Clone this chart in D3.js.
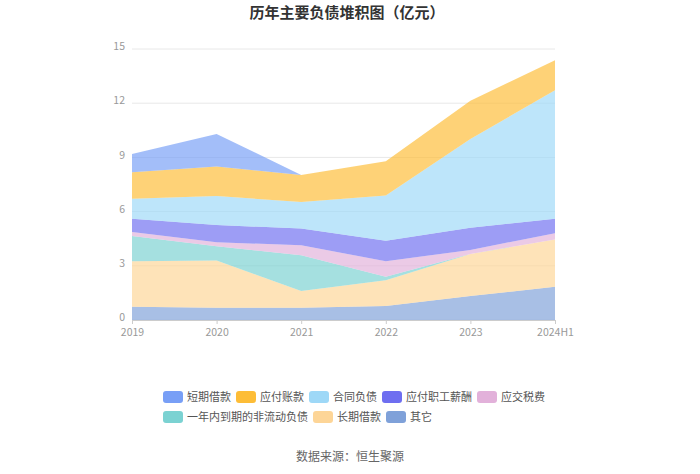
<!DOCTYPE html>
<html>
<head>
<meta charset="utf-8">
<script src="https://cdn.jsdelivr.net/npm/d3@7"></script>
<style>
  body { margin: 0; background: #fff; }
  text { font-family: "Noto Sans CJK SC", "Noto Sans", sans-serif; }
</style>
</head>
<body>
<div id="chart"></div>
<script>
"use strict";

// categories (x axis)
const years = ["2019", "2020", "2021", "2022", "2023", "2024H1"];

// series values, 亿元
const duanqiJiekuan = [1.01, 1.81, 0, 0, 0, 0];
const yingfuZhangkuan = [1.47, 1.63, 1.50, 1.90, 2.11, 1.66];
const hetongFuzhai = [1.10, 1.60, 1.47, 2.50, 4.91, 7.11];
const zhigongXinchou = [0.74, 0.96, 0.92, 1.14, 1.23, 0.81];
const yingjiaoShuifei = [0.22, 0.22, 0.56, 0.86, 0.22, 0.34];
const yinianNeiDaoqi = [1.40, 0.79, 1.98, 0.19, 0.01, 0];
const changqiJiekuan = [2.52, 2.61, 0.92, 1.42, 2.32, 2.62];
const qita = [0.73, 0.68, 0.68, 0.78, 1.33, 1.84];

// y axis ticks
const yTicks = [0, 3, 6, 9, 12, 15];

// legend order (top of stack first)
const seriesNames = ["短期借款", "应付账款", "合同负债", "应付职工薪酬", "应交税费", "一年内到期的非流动负债", "长期借款", "其它"];
const seriesValues = [duanqiJiekuan, yingfuZhangkuan, hetongFuzhai, zhigongXinchou, yingjiaoShuifei, yinianNeiDaoqi, changqiJiekuan, qita];
const seriesColors = ["#789ff6", "#fdbd37", "#9ed8f7", "#6e6ef0", "#e2b1da", "#7bd2d2", "#fdd597", "#7fa1d9"];

const width = 700, height = 474;
const margin = { top: 49, right: 145, bottom: 154, left: 132 };
const innerW = width - margin.left - margin.right;
const innerH = height - margin.top - margin.bottom;

const svg = d3.select("#chart").append("svg")
    .attr("width", width)
    .attr("height", height);

// title
svg.append("text")
    .attr("x", 347)
    .attr("y", 18)
    .attr("text-anchor", "middle")
    .style("font-size", "15px")
    .style("font-weight", "bold")
    .style("fill", "#333")
    .text("历年主要负债堆积图（亿元）");

const g = svg.append("g")
    .attr("transform", `translate(${margin.left},${margin.top})`);

const x = d3.scalePoint().domain(years).range([0, innerW]);
const y = d3.scaleLinear().domain([0, 15]).range([innerH, 0]);

// gridlines
g.append("g")
    .selectAll("line")
    .data(yTicks)
    .enter()
    .append("line")
    .attr("x1", 0)
    .attr("x2", innerW)
    .attr("y1", d => y(d))
    .attr("y2", d => y(d))
    .style("stroke", "#e8e8e8")
    .style("stroke-width", 1);

// build the table for the stack: bottom series first
const table = years.map((yr, i) => {
    const row = { year: yr };
    seriesNames.forEach((name, k) => { row[name] = seriesValues[k][i]; });
    return row;
});
const stackKeys = seriesNames.slice().reverse();
const stacked = d3.stack().keys(stackKeys)(table);

const area = d3.area()
    .x(d => x(d.data.year))
    .y0(d => y(d[0]))
    .y1(d => y(d[1]));

g.append("g")
    .selectAll("path")
    .data(stacked)
    .enter()
    .append("path")
    .attr("d", area)
    .style("fill", d => seriesColors[seriesNames.indexOf(d.key)])
    .style("fill-opacity", 0.68)
    .style("stroke", "none");

// y axis labels
g.append("g")
    .selectAll("text")
    .data(yTicks)
    .enter()
    .append("text")
    .attr("x", -7)
    .attr("y", d => y(d) - 2.5)
    .attr("dy", "0.35em")
    .attr("text-anchor", "end")
    .style("font-size", "10.5px")
    .style("fill", "#999")
    .text(d => d);

// x axis
const xAxis = g.append("g")
    .attr("transform", `translate(0,${innerH})`)
    .call(d3.axisBottom(x).tickSize(4).tickPadding(5));
xAxis.select(".domain").style("stroke", "#ccc");
xAxis.selectAll(".tick line").style("stroke", "#ccc");
xAxis.selectAll(".tick text")
    .style("font-size", "10.5px")
    .style("fill", "#999")
    .style("font-family", "\"Noto Sans CJK SC\", \"Noto Sans\", sans-serif");

// legend
const legendRows = [[0, 1, 2, 3, 4], [5, 6, 7]];
const legendY = [397, 417];
legendRows.forEach((row, r) => {
    let lx = 163;
    row.forEach(k => {
        const item = svg.append("g").attr("transform", `translate(${lx},${legendY[r]})`);
        item.append("rect")
            .attr("x", 0)
            .attr("y", -6)
            .attr("width", 20)
            .attr("height", 12)
            .attr("rx", 3)
            .style("fill", seriesColors[k]);
        const t = item.append("text")
            .attr("x", 24)
            .attr("dy", "0.35em")
            .style("font-size", "11px")
            .style("fill", "#555")
            .text(seriesNames[k]);
        lx += 24 + t.node().getComputedTextLength() + 5;
    });
});

// source
svg.append("text")
    .attr("x", 350)
    .attr("y", 461)
    .attr("text-anchor", "middle")
    .style("font-size", "12px")
    .style("fill", "#666")
    .text("数据来源：恒生聚源");
</script>
</body>
</html>
